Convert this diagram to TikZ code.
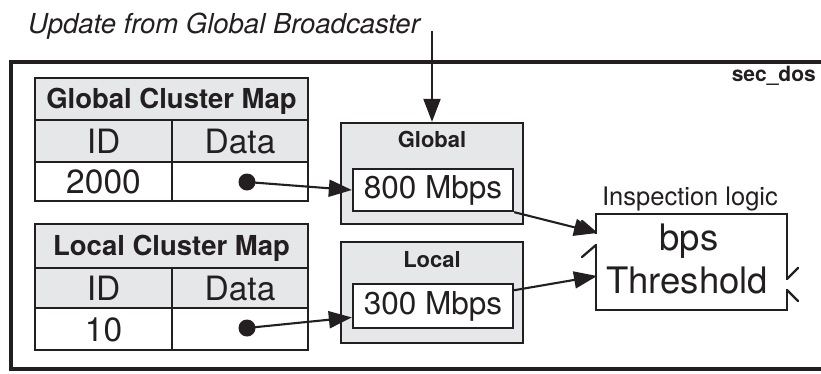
\documentclass[tikz,border=0pt]{standalone}
\usepackage{fontspec}
\setmainfont{TeX Gyre Heros}
\usetikzlibrary{arrows.meta,calc}

\definecolor{ink}{HTML}{231F20}
\definecolor{panel}{HTML}{E6E7E9}
\newcommand{\fsz}[1]{\fontsize{#1}{#1}\selectfont}

\begin{document}
\begin{tikzpicture}[x=1pt,y=-1pt,
  cell/.style={draw=ink, line width=2.3pt, inner sep=0pt, text=ink},
  hdrcell/.style={cell, fill=panel, font=\fsz{27.5}\bfseries, text height=19.8pt, text depth=0pt},
  colcell/.style={cell, fill=panel, font=\fsz{33.5}, text height=24pt, text depth=0pt},
  valcell/.style={cell, fill=white, font=\fsz{33.5}, text height=24pt, text depth=0pt},
  store/.style={draw=ink, line width=2.3pt, fill=panel, inner sep=0pt,
    minimum width=182pt, minimum height=101pt},
  rate/.style={cell, fill=white, font=\fsz{31.5}, text height=22.6pt, text depth=5pt,
    minimum width=160pt},
  dot/.style={circle, fill=ink, inner sep=0pt, minimum size=17pt},
  link/.style={draw=ink, line width=2.1pt, -{Triangle[length=23pt,width=17pt]}},
  label/.style={text=ink, inner sep=0pt, anchor=base},
  edge/.style={draw=ink, line width=2.3pt, line cap=round, line join=miter}
]
\clip (0,0) rectangle (821,373);

% enclosing module frame
\draw[ink, line width=4.6pt] (11,62) rectangle (860,369);
\node[label, anchor=base east, font=\fsz{21}\bfseries] (mod) at (816,81) {sec\_dos};

% incoming update
\node[label, anchor=base west, font=\fsz{27.5}\itshape] (title) at (28,33) {Update from Global Broadcaster};
\coordinate (feed) at (432,31);

% global cluster map
\node[hdrcell, minimum width=273pt, minimum height=42pt] (gmap) at (171.5,99) {Global Cluster Map};
\node[colcell, minimum width=137pt, minimum height=42pt] (gid) at (103.5,141) {ID};
\node[colcell, minimum width=136pt, minimum height=42pt] (gdata) at (240,141) {Data};
\node[valcell, minimum width=137pt, minimum height=39pt] (gkey) at (103.5,181.5) {2000};
\node[valcell, minimum width=136pt, minimum height=39pt] (gval) at (240,181.5) {};

% local cluster map
\node[hdrcell, minimum width=273pt, minimum height=44pt] (lmap) at (171.5,246) {Local Cluster Map};
\node[colcell, minimum width=137pt, minimum height=40pt] (lid) at (103.5,288) {ID};
\node[colcell, minimum width=136pt, minimum height=40pt] (ldata) at (240,288) {Data};
\node[valcell, minimum width=137pt, minimum height=42pt] (lkey) at (103.5,329) {10};
\node[valcell, minimum width=136pt, minimum height=42pt] (lval) at (240,329) {};

% pointers
\node[dot] (gdot) at (247,182) {};
\node[dot] (ldot) at (247,328) {};

% threshold stores
\node[store] (gbox) at (432,173.5) {};
\node[label, font=\fsz{22}\bfseries] (gname) at (432,147) {Global};
\node[rate, minimum height=42pt] (g800) at (433,190) {800 Mbps};

\node[store] (lbox) at (432,292.5) {};
\node[label, font=\fsz{22}\bfseries] (lname) at (432,267) {Local};
\node[rate, minimum height=44pt] (l300) at (433,306) {300 Mbps};

% inspection logic block with its ports
\node[inner sep=0pt, minimum width=191pt, minimum height=96pt] (insp) at (691.5,262) {};
\node[label, font=\fsz{25.5}] (ititle) at (690,205) {Inspection logic};
\node[label, font=\fsz{36.5}] (ibps) at (689,250) {bps};
\node[label, font=\fsz{36.5}] (ithr) at (687,293) {Threshold};

\path[edge] (596,233) -- (596,214) -- (787,214) -- (787,279);
\path[edge] (787,290) -- (787,310) -- (596,310) -- (596,245);
\path[edge] (596,233) -- (582,221);
\path[edge] (596,245) -- (582,257);
\path[edge] (787,279) -- (798,268);
\path[edge] (787,290) -- (798,301);
\coordinate (inTop) at (597,233);
\coordinate (inLow) at (597,276);

% connectors
\draw[link] (feed) -- (gbox.north);
\draw[link] (gdot.center) -- (g800.west);
\draw[link] (ldot.center) -- (l300.188);
\draw[link] (g800.south east) -- (inTop);
\draw[link] (l300.11) -- (inLow);
\end{tikzpicture}
\end{document}
